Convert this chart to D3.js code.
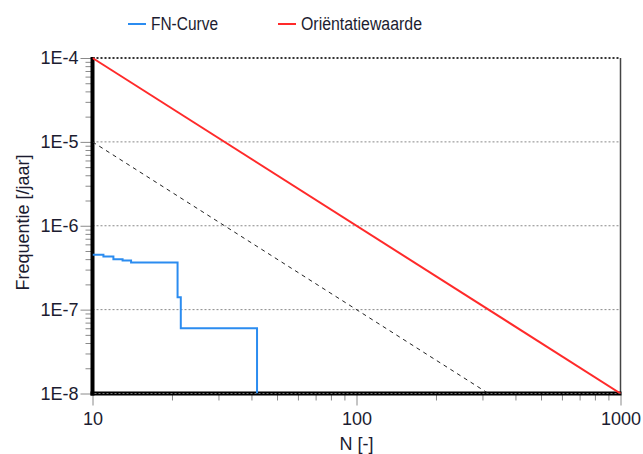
<!DOCTYPE html>
<html>
<head>
<meta charset="utf-8">
<script src="https://cdn.jsdelivr.net/npm/d3@7"></script>
<style>
  html, body { margin: 0; padding: 0; background: #fff; }
  svg { display: block; font-family: "Liberation Sans", Arial, sans-serif; }
</style>
</head>
<body>
<svg id="chart" width="643" height="454"></svg>
<script>
// FN-curve (step function of frequency vs number of victims)
const fnN = [10, 11, 12, 13, 14, 21, 21.6, 42];
const fnF = [4.5e-7, 4.3e-7, 4.0e-7, 3.85e-7, 3.65e-7, 1.4e-7, 6.0e-8, 1e-8];

// Orientation value line (F = 1e-2 / N^2)
const oriN = [10, 1000];
const oriF = [1e-4, 1e-8];

// Dashed reference line (one decade below the orientation value)
const refN = [10, 316.2];
const refF = [1e-5, 1e-8];

// Axis ticks
const yMajor = [1e-8, 1e-7, 1e-6, 1e-5, 1e-4];
const yLabels = ["1E-8", "1E-7", "1E-6", "1E-5", "1E-4"];
const xMajor = [10, 100, 1000];
const xLabels = ["10", "100", "1000"];

const legendNames = ["FN-Curve", "Oriëntatiewaarde"];
const legendColors = ["#2b8cf0", "#ff2a2a"];

const svg = d3.select("#chart");
const pLeft = 92.5, pRight = 620.5, pTop = 58, pBottom = 393.5;

const x = d3.scaleLog().domain([10, 1000]).range([pLeft, pRight]);
const y = d3.scaleLog().domain([1e-8, 1e-4]).range([pBottom, pTop]);

const minorOf = (lo, hi) => {
  const out = [];
  for (let p = lo; p < hi * 0.999; p *= 10) for (let m = 2; m <= 9; m++) out.push(p * m);
  return out;
};
const yMinor = minorOf(1e-8, 1e-4);
const xMinor = minorOf(10, 1000);

const textColor = "#1c1c30";
const tickColor = "#8a8a8a";
const fontFamily = "Liberation Sans, Arial, sans-serif";

// clip region for the data
svg.append("defs").append("clipPath").attr("id", "plot-clip")
  .append("rect").attr("x", pLeft).attr("y", pTop - 2)
  .attr("width", pRight - pLeft + 2).attr("height", pBottom - pTop + 2);

// right border
svg.append("line")
  .attr("x1", pRight).attr("x2", pRight).attr("y1", pTop).attr("y2", pBottom)
  .attr("stroke", "#444").attr("stroke-width", 1.5);

// Minor ticks
svg.append("g").attr("transform", `translate(${pLeft},0)`)
  .call(d3.axisLeft(y).tickValues(yMinor).tickSize(7).tickFormat(""))
  .call(g => g.select(".domain").remove())
  .call(g => g.selectAll("line").attr("stroke", tickColor));
svg.append("g").attr("transform", `translate(0,${pBottom})`)
  .call(d3.axisBottom(x).tickValues(xMinor).tickSize(7).tickFormat(""))
  .call(g => g.select(".domain").remove())
  .call(g => g.selectAll("line").attr("stroke", tickColor));

// Major ticks with labels
svg.append("g").attr("transform", `translate(${pLeft},0)`)
  .call(d3.axisLeft(y).tickValues(yMajor).tickSize(12).tickPadding(2)
    .tickFormat((d, i) => yLabels[i]))
  .call(g => g.select(".domain").remove())
  .call(g => g.selectAll("line").attr("stroke", tickColor))
  .call(g => g.selectAll("text").attr("font-size", 18).attr("fill", textColor)
    .attr("font-family", fontFamily));
svg.append("g").attr("transform", `translate(0,${pBottom})`)
  .call(d3.axisBottom(x).tickValues(xMajor).tickSize(12)
    .tickFormat((d, i) => xLabels[i]))
  .call(g => g.select(".domain").remove())
  .call(g => g.selectAll("line").attr("stroke", tickColor))
  .call(g => g.selectAll("text").attr("font-size", 18).attr("fill", textColor)
    .attr("font-family", fontFamily)
    .attr("y", 31).attr("dy", null));

// Horizontal dotted grid lines at each decade
svg.append("g").selectAll("line").data(yMajor).join("line")
  .attr("x1", pLeft).attr("x2", pRight)
  .attr("y1", d => y(d)).attr("y2", d => y(d))
  .attr("stroke", (d, i) => i === yMajor.length - 1 ? "#333" : "#888")
  .attr("stroke-width", (d, i) => i === yMajor.length - 1 ? 2 : 1)
  .attr("stroke-dasharray", "2,2");

// thick axis lines
svg.append("line").attr("x1", pLeft).attr("x2", pLeft).attr("y1", pTop - 1).attr("y2", pBottom + 2)
  .attr("stroke", "#000").attr("stroke-width", 4);
svg.append("line").attr("x1", pLeft - 2).attr("x2", pRight + 1).attr("y1", pBottom).attr("y2", pBottom)
  .attr("stroke", "#000").attr("stroke-width", 4);
// dotted grid over the bottom axis
svg.append("line").attr("x1", pLeft + 2).attr("x2", pRight).attr("y1", pBottom).attr("y2", pBottom)
  .attr("stroke", "#777").attr("stroke-width", 1).attr("stroke-dasharray", "2,2");

const plot = svg.append("g").attr("clip-path", "url(#plot-clip)");

// dashed reference line
plot.append("path")
  .datum(refN.map((n, i) => [n, refF[i]]))
  .attr("d", d3.line().x(d => x(d[0])).y(d => y(d[1])))
  .attr("fill", "none").attr("stroke", "#222").attr("stroke-width", 1)
  .attr("stroke-dasharray", "4,4");

// orientation value
plot.append("path")
  .datum(oriN.map((n, i) => [n, oriF[i]]))
  .attr("d", d3.line().x(d => x(d[0])).y(d => y(d[1])))
  .attr("fill", "none").attr("stroke", legendColors[1]).attr("stroke-width", 2);

// FN curve
plot.append("path")
  .datum(fnN.map((n, i) => [n, fnF[i]]))
  .attr("d", d3.line().curve(d3.curveStepAfter).x(d => x(d[0])).y(d => y(d[1])))
  .attr("fill", "none").attr("stroke", legendColors[0]).attr("stroke-width", 2);

// Axis titles
svg.append("text").attr("x", (pLeft + pRight) / 2).attr("y", 450)
  .attr("text-anchor", "middle").attr("font-size", 18).attr("fill", textColor)
  .text("N [-]");
svg.append("text").attr("transform", "translate(29,222.5) rotate(-90)")
  .attr("text-anchor", "middle").attr("font-size", 18).attr("fill", textColor)
  .text("Frequentie [/jaar]");

// Legend
const legendX = [128, 278];
const legendW = [67, 121];
const lg = svg.append("g").selectAll("g").data(legendNames).join("g")
  .attr("transform", (d, i) => `translate(${legendX[i]},0)`);
lg.append("line").attr("x1", 0).attr("x2", 18).attr("y1", 24).attr("y2", 24)
  .attr("stroke", (d, i) => legendColors[i]).attr("stroke-width", 2);
lg.append("text").attr("x", 23).attr("y", 30).attr("font-size", 18)
  .attr("fill", textColor)
  .attr("textLength", (d, i) => legendW[i]).attr("lengthAdjust", "spacingAndGlyphs")
  .text(d => d);
</script>
</body>
</html>
